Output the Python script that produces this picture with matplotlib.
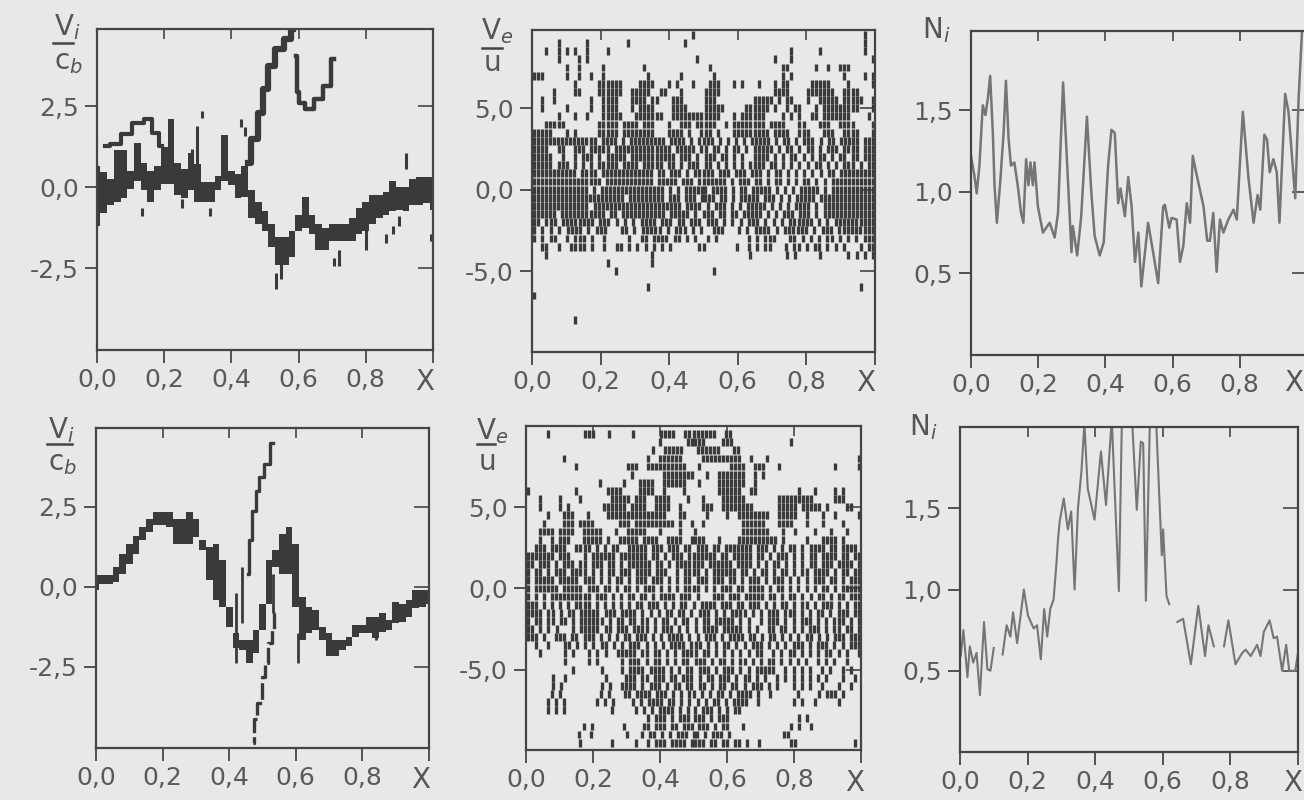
"""Six panels of ion/electron velocity and ion density against X (scanned figure)."""

import matplotlib
matplotlib.use("Agg")
import matplotlib.pyplot as plt
from matplotlib.lines import Line2D

BG = "#e8e8e6"
INK = "#454545"
DARK = "#3a3a3a"
GREY = "#757575"

plt.rcParams.update({"font.family": "DejaVu Sans", "font.size": 16, "mathtext.default": "it"})

x_labels = ["0,0", "0,2", "0,4", "0,6", "0,8", ""]
x_ticks = [0.0, 0.2, 0.4, 0.6, 0.8, 1.0]

# ── Vi, top row: main band ──────────────────────────────────────────
vi_top_x = [0.00, 0.02, 0.04, 0.06, 0.08, 0.10, 0.12, 0.14, 0.16, 0.18, 0.20, 0.22, 0.24, 0.26,
            0.28, 0.30, 0.32, 0.34, 0.36, 0.38, 0.40, 0.42, 0.44, 0.46, 0.48, 0.50, 0.52, 0.54,
            0.56, 0.58, 0.60, 0.62, 0.64, 0.66, 0.68, 0.70, 0.72, 0.74, 0.76, 0.78, 0.80, 0.82,
            0.84, 0.86, 0.88, 0.90, 0.92, 0.94, 0.96, 0.98, 1.00]
vi_top_hi = [0.65, 0.45, 0.25, 1.15, 1.15, 0.50, 1.35, 0.75, 0.50, 0.65, 1.25, 2.10, 0.75, 0.55,
             1.05, 0.70, 0.15, 0.15, 0.35, 1.60, 0.50, 0.40, 0.65, -0.10, -0.45, -0.75, -1.15, -1.55,
             -1.55, -1.35, -0.85, -0.30, -0.85, -1.15, -1.25, -1.15, -1.15, -1.15, -0.95, -0.65, -0.45, -0.25,
             -0.25, -0.15, 0.20, 0.00, 0.00, 0.25, 0.30, 0.30, 0.30]
vi_top_lo = [-1.20, -0.80, -0.55, -0.45, -0.35, -0.05, 0.20, -0.10, -0.45, -0.10, 0.10, 0.10, -0.25, -0.35,
             -0.10, -0.45, -0.45, -0.45, -0.10, 0.20, 0.05, -0.35, -0.30, -0.95, -1.15, -1.35, -1.85, -2.40,
             -2.40, -2.15, -1.35, -1.25, -1.45, -1.95, -1.95, -1.65, -1.65, -1.65, -1.65, -1.45, -1.35, -1.15,
             -0.95, -0.85, -0.75, -0.70, -0.75, -0.55, -0.55, -0.50, -0.70]

# beam branches of the top panel
beam1_x = [0.448, 0.468, 0.488, 0.498, 0.517, 0.542, 0.572, 0.584]
beam1_y = [0.75, 1.47, 2.30, 3.02, 3.74, 4.26, 4.57, 4.88]
beam2_x = [0.592, 0.597, 0.607, 0.632, 0.657, 0.687, 0.706]
beam2_y = [4.05, 2.92, 2.60, 2.40, 2.71, 3.12, 3.95]
beam3_x = [0.025, 0.055, 0.085, 0.124, 0.154, 0.174, 0.194]
beam3_y = [1.27, 1.32, 1.63, 1.99, 2.09, 1.68, 1.27]

# stray dashes of the top panel
stray_top_x = [0.313, 0.428, 0.441, 0.920, 0.335, 0.134, 0.532, 0.547, 0.706, 0.719, 0.861, 0.881,
               0.900, 0.995, 0.800, 0.254, 0.298, 0.284]
stray_top_hi = [2.35, 2.09, 1.84, 1.06, -0.64, -0.64, -2.65, -2.34, -2.19, -1.93, -1.46, -1.20,
                -0.90, -1.46, -1.20, -0.38, 1.89, 1.16]
stray_top_lo = [2.14, 1.84, 1.58, 0.55, -0.90, -0.90, -3.16, -2.85, -2.44, -2.44, -1.72, -1.46,
                -1.20, -1.67, -1.93, -0.64, 0.65, 0.00]

# ── Vi, bottom row ──────────────────────────────────────────────────
vi_bot_x = vi_top_x
vi_bot_hi = [0.36, 0.36, 0.36, 0.62, 1.03, 1.35, 1.60, 1.86, 2.12, 2.33, 2.33, 2.33, 2.12, 2.12,
             2.33, 2.12, 1.45, 1.24, 1.35, 0.83, -0.62, -1.45, -1.65, -1.65, -1.35, -0.52, 0.83, 1.14,
             1.66, 1.86, 1.35, -0.31, -0.62, -0.72, -1.24, -1.45, -1.66, -1.66, -1.55, -1.19, -1.19, -0.93,
             -0.93, -0.83, -1.03, -0.47, -0.52, -0.41, -0.10, -0.10, -0.10]
vi_bot_lo = [-0.10, 0.10, 0.10, 0.15, 0.41, 0.72, 1.03, 1.45, 1.70, 1.92, 1.92, 1.86, 1.35, 1.35,
             1.35, 1.55, 1.14, 0.20, -0.40, -0.62, -1.24, -1.90, -1.97, -2.38, -2.07, -1.35, -0.52, 0.62,
             0.41, 0.41, -0.62, -1.66, -1.45, -1.35, -1.66, -2.17, -2.17, -1.97, -1.86, -1.55, -1.45, -1.45,
             -1.60, -1.40, -1.35, -1.14, -1.09, -0.93, -0.67, -0.62, -0.52]
beam4_x = [0.457, 0.462, 0.477, 0.482, 0.497, 0.513, 0.533]
beam4_y = [0.41, 1.45, 2.38, 3.00, 3.42, 3.83, 4.50]
beam5_x = [0.538, 0.533, 0.523, 0.513, 0.503, 0.492, 0.477, 0.470]
beam5_y = [-0.83, -1.35, -1.76, -2.38, -2.80, -3.62, -4.14, -4.87]
stray_bot_x = [0.420, 0.437, 0.606, 0.842, 0.533]
stray_bot_hi = [-0.20, 0.62, -1.45, -1.45, 0.41]
stray_bot_lo = [-2.38, -1.14, -2.38, -1.66, -0.83]

# ── Ve particles: one string per y level, one character per column ──
ve_top_rows = {
    9.5: ".......................................#.........................................#..",
    9.0: "......#......#.........#.............#...........................................#..",
    8.5: "...#..#.#.#..#....#............................................#......#..........#..",
    8.0: "......#....#.#..........................#..................#...#...................#",
    7.5: "........#..#.....#.........#...............#.................##......#..#..###......",
    7.0: "###.....#..#..#..#..........#.......#.......#................#.#............#....#.#",
    6.5: "..........#.....######....####...#.#...#...###...#.#...#...#.##.....#####....#.....#",
    6.0: ".....#....##....######..#####..##...#.....####.............####....#######..####....",
    5.5: "..#..#........#..####...####.##...###.....###.........#####.#.##...#..#####.#####..#",
    5.0: "..#.....#.....#..####...#.####....####....#####.....######.#..#.##...#.#########...#",
    4.5: "......#...#..#...#####...#######..############...#.######....#.#.#..##.#######....#.",
    4.0: "...#####........#####.####.###...#..###.#####..#.########.####...##...###..####....#",
    3.5: "#####...#.#.....#####.########...####.#..###.#...#########.####..###...###..####...#",
    3.0: "################.####.#.#########.####.#.####.#.#.#.#.#####.#.##.#.###.#.##.#####.###",
    2.5: "####..##..###.#####.##############.#####.##.##.#.##.#.#####.#.##.#.##.#.###.####.###",
    2.0: "#####..#..#.###.#.#####.###########.###.#.###.##.#.#..####.#.#.##.#.#.##.#.##.##.###",
    1.5: "#####.###.#.#.#.#####.####.#####.##.#.###.##.#.#.#.#.####.##.#.#.#.#.##.#.#.###.#.##",
    1.0: "###########.####.#############.##.###.#.#####.###.###.###.#.##.#.#.#.#.#.##.#########",
    0.5: "#################.############.#####.###.#######.#.###.##.#.##.#.#.##.#.#.###########",
    0.0: "##############.#.################.#.#.######.####.#.##.#####.#.#.#.#####.#.###########",
    -0.5: "#######################.#########.###.###.####.##.#.#####.###.#.#.#####.##############",
    -1.0: "##############.######################.####.#.###.#.#.#####.#.#.#.####.#.#############",
    -1.5: "######.###########.##.###########.#####.#.###.##.##.#####.#.#.###.###.#.#############",
    -2.0: "##.###.########.###.#.#.#.####.###.##.###.###.#.#.#.###.#.#.#.######.#.#.##########",
    -2.5: "#.#.#.#.####.#.###...##.#.#####.#.###.#.#..###...#.#.####.#.######.#.###.#########",
    -3.0: "#.#.##..#.###.#..#.....#..##.####.##.#.#..#.#.......#.#.###...##.#.#.#.##.#.#.#.###",
    -3.5: "..##..#..####.#..#..##.#.#.#.#.#.#......##.......#..#.#.##...#.##.#.##.#.#.#...#.##",
    -4.0: "...#.........................#.......................#........#.#.....#......#.#.#.#",
    -4.5: "..................#..........#......................................................",
    -5.0: "....................#.......................#.......................................",
    -6.0: "............................#...................................................#...",
    -6.5: "#...................................................................................",
    -8.0: "..........#.........................................................................",
}
ve_bot_rows = {
    9.5: ".....#........###...#.....#......####..########..##................................",
    9.0: ".................................#......#####....###..............#.................",
    8.5: "...............................#..#####...######...##..............................",
    8.0: ".........#....................#..######.....##########..#...#......................#",
    7.5: "............#............###..##########...#.......####..###...#.............#.....#",
    7.0: "..........................#.......########...#..#######..#.#........................",
    6.5: "..................#.....#...####..######...#....#######..#..........................",
    6.0: "#...........#.......####....####..#....#........######..##..........#...#....#.#....",
    5.5: "...#....#....#.......#####.###..####....#...#....######........#########.....###....",
    5.0: "...#....#.#........######.####..####..#.....###..########......#####.#####.#....##..",
    4.5: ".....#...###...#....###############...##.....#....#..########..#####..#...#..#.....#",
    4.0: "....#....###.####......###.##########.#..#..#.........######...####...#...#....#....",
    3.5: "...####.####..#####...#..#####...#....#...#...........#######...#..#....#...#...#...",
    3.0: "...#..#.###...#####.#..#####.####..####..####...#....##########.#.....#...####.#....",
    2.5: "..###.####..####.#.#.##..#####.###.###.##.###.##.#######.###.#.#.##.#.####.##.####.",
    2.0: "#######.###...#.######.#######.##.#.###.#######.##.#####.##.#.###.#.#.##.####.##.##",
    1.5: "##.###.#.###.##.###.##.#.######.##.#.#######.######.####.#.#.##.#.#.#.##.###.####.#",
    1.0: "#.##.#.###.####.#.#.##.###.####.###..#.####.#.######.##.#.##.#.##.#.##.####.#.##.##",
    0.5: "#.#####.#####.###.#.#.##.#.###.###.#.#.##.###.###.##.#.###.#.###.#.#.#.###.##.#.###",
    0.0: "#.######.#####.###.##.#.##.#.###.#.#.#.####.#.#.###.##.####.#.##.#.#.#.#.##.#.#####",
    -0.5: "#.#.#.##########.###.#.#.##.##.#.####.###.#...###.###.#####.##.#.##.#.#.##.#.##.###",
    -1.0: "###.#.#.#.#.####.#.#.#.#.#.##.###.#.#.##.#.####.###.##.###.#.#.##.#.##.#.###.#.#.##",
    -1.5: "####.##.#.##.#####.###.####.#.#.#.##.##.#.###.#.#.####.#.#.###.###.#.#.##.#.###.##",
    -2.0: "#.##.##.##.#.######.#.##.##.##.#.##.#.##.#.##.#####.#.#..#.###.#.#.###.#.#.###.#.#",
    -2.5: "##.#.#.#...#.#####.##.###.####.#.###.#.#.#.####.#####.#.#..##.##.#.#.###.#.##.##.#",
    -3.0: "###.#..###.##.###.#.#.#.##.###.#.#.####.#.#.###.#.####.##.#.##.#.#.#.##.#.#.###.###",
    -3.5: "..#..#...##.#.#.#.##.#.#.###.#.#.#.####.###.#.#.##.#.#.###.#.#.#.###.#.###.#.#.###",
    -4.0: "...#.....#.#...#.#.#..#####.##.##.#.#.####.##.#.#.#.#.#.##..#.#.##.#.#.#.##.#.#..#",
    -4.5: ".........#.....#.#.....#.###.#.##.#.#.##.###.#.##.#.##.#.#.##.#.#.#.#..#.#.#..#...",
    -5.0: "...........#......#....#.####.####.#.#.##.###.#.###.#.#.#####..#.#.#.#..#.#..#.#..",
    -5.5: "......#..#.........#....###.##.###.##.###.#.##.###.#.##.#.#..#.#.#.#.#.#.#...#..#.",
    -6.0: "......#.#.........#.#..####.#.###.#.##.##.##.#.##.##.#.###.#.#...#.#.#..#...#..#..",
    -6.5: "......#.#.........#.#...##.####.###.#.#.##.#.#.##.#.####.#..#......#....#.###.#....",
    -7.0: ".....#.#.#.......#.#.#....#.#.####.##.#.#.#.#.##.#.####..#........#.#..#.....#.....",
    -7.5: ".....#.#.#...........#.....#.#.#.####.#.#.#.###.#.#.##..............................",
    -8.0: "..............................#.###.#.###.###.#.###.................#.#.............",
    -8.5: "..............#.#.......#....##.###.##.###.###.#.##...#...........#.#..#............",
    -9.0: ".............#..#........#...#.##.#.#.###.##.#.###.#.............##..................",
    -9.5: ".............#.......#.....#..#.###.####.####.##.##.##.#..#.......##..............#.",
}

# ── Ni curves ───────────────────────────────────────────────────────
ni_top_x = [0.000, 0.010, 0.017, 0.025, 0.035, 0.043, 0.050, 0.057, 0.065, 0.070, 0.077, 0.087, 0.097,
            0.104, 0.112, 0.119, 0.129, 0.139, 0.149, 0.156, 0.164, 0.171, 0.177, 0.184, 0.189, 0.199,
            0.214, 0.234, 0.249, 0.259, 0.274, 0.284, 0.299, 0.303, 0.316, 0.328, 0.345, 0.358, 0.368,
            0.383, 0.395, 0.408, 0.418, 0.428, 0.438, 0.445, 0.458, 0.468, 0.478, 0.488, 0.498, 0.507,
            0.527, 0.542, 0.557, 0.572, 0.577, 0.590, 0.597, 0.612, 0.622, 0.632, 0.642, 0.652, 0.660,
            0.672, 0.692, 0.703, 0.711, 0.721, 0.731, 0.741, 0.751, 0.766, 0.781, 0.791, 0.809, 0.826,
            0.841, 0.853, 0.861, 0.873, 0.881, 0.889, 0.900, 0.910, 0.918, 0.935, 0.945, 0.965, 0.975, 0.985]
ni_top_y = [1.22, 1.10, 0.99, 1.16, 1.53, 1.47, 1.57, 1.71, 1.36, 1.04, 0.81, 1.06, 1.36,
            1.68, 1.32, 1.16, 1.18, 1.04, 0.87, 0.81, 1.20, 1.04, 1.18, 1.04, 1.18, 0.91,
            0.75, 0.81, 0.72, 0.87, 1.67, 1.26, 0.63, 0.79, 0.61, 0.85, 1.46, 1.00, 0.73,
            0.61, 0.69, 1.16, 1.38, 1.36, 0.93, 1.02, 0.85, 1.09, 0.91, 0.57, 0.75, 0.42,
            0.81, 0.63, 0.44, 0.91, 0.92, 0.78, 0.84, 0.83, 0.57, 0.67, 0.93, 0.81, 1.22,
            1.10, 0.91, 0.70, 0.70, 0.87, 0.51, 0.83, 0.75, 0.83, 0.89, 0.83, 1.49, 1.08,
            0.81, 0.98, 0.89, 1.35, 1.32, 1.12, 1.20, 1.12, 0.81, 1.60, 1.49, 0.96, 1.57, 1.98]

ni_bot1_x = [0.000, 0.002, 0.010, 0.022, 0.029, 0.039, 0.049, 0.059, 0.071, 0.081, 0.090, 0.100]
ni_bot1_y = [0.63, 0.59, 0.75, 0.46, 0.65, 0.55, 0.61, 0.35, 0.80, 0.51, 0.50, 0.64]
ni_bot2_x = [0.126, 0.138, 0.149, 0.157, 0.169, 0.189, 0.201, 0.218, 0.228, 0.239, 0.249, 0.258, 0.267,
             0.277, 0.285, 0.290, 0.295, 0.307, 0.319, 0.329, 0.339, 0.349, 0.359, 0.368, 0.378, 0.398,
             0.417, 0.432, 0.449, 0.470, 0.479, 0.509, 0.523, 0.535, 0.542, 0.550, 0.562, 0.580, 0.597,
             0.601, 0.611, 0.619]
ni_bot2_y = [0.60, 0.78, 0.71, 0.86, 0.67, 1.00, 0.84, 0.76, 0.78, 0.57, 0.88, 0.71, 0.88,
             0.94, 1.15, 1.31, 1.42, 1.56, 1.37, 1.48, 1.00, 1.50, 1.72, 2.02, 1.62, 1.43,
             1.85, 1.52, 2.05, 0.99, 2.05, 2.05, 1.49, 1.91, 1.90, 0.93, 2.05, 2.05, 1.21,
             1.37, 0.96, 0.91]
ni_bot3_x = [0.643, 0.660, 0.683, 0.705, 0.725, 0.735, 0.751]
ni_bot3_y = [0.80, 0.82, 0.54, 0.90, 0.59, 0.78, 0.65]
ni_bot4_x = [0.781, 0.794, 0.815, 0.835, 0.845, 0.860, 0.879, 0.889, 0.899, 0.916, 0.928, 0.938, 0.953,
             0.965, 0.974, 0.992, 1.000]
ni_bot4_y = [0.65, 0.81, 0.54, 0.61, 0.63, 0.59, 0.66, 0.59, 0.74, 0.81, 0.70, 0.71, 0.50,
             0.66, 0.50, 0.50, 0.61]


def make_axes(fig, box, ylim, yticks, ylabels):
    """box is left, top, right, bottom in image pixels."""
    left, top, right, bottom = box
    ax = fig.add_axes([left / 1304, 1 - bottom / 800, (right - left) / 1304, (bottom - top) / 800])
    ax.set_facecolor("none")
    ax.set_xlim(0, 1)
    ax.set_ylim(*ylim)
    ax.set_xticks(x_ticks, x_labels)
    ax.set_yticks(yticks, ylabels)
    ax.tick_params(length=9, width=1.3, color=INK, labelcolor="#5a5a5a", labelsize=18, pad=4)
    for spine in ax.spines.values():
        spine.set_color(INK)
        spine.set_linewidth(1.6)
    # inward ticks on the top and right frame
    sec_x = ax.secondary_xaxis("top")
    sec_x.set_xticks(x_ticks[1:5], [""] * 4)
    sec_x.tick_params(direction="in", length=7, width=1.2, color=INK)
    sec_x.spines["top"].set_visible(False)
    sec_y = ax.secondary_yaxis("right")
    sec_y.set_yticks(yticks, [""] * len(yticks))
    sec_y.tick_params(direction="in", length=11, width=1.2, color=INK)
    sec_y.spines["right"].set_visible(False)
    return ax


def draw_particles(ax, rows):
    for y, row in rows.items():
        xs = [(i + 0.5) / len(row) for i, c in enumerate(row) if c == "#"]
        ax.vlines(xs, y - 0.24, y + 0.24, color=DARK, linewidth=2.4, capstyle="butt")


def put_text(fig, px, py, text, size=18):
    fig.text(px / 1304, 1 - py / 800, text, ha="center", va="center", color="#555555", fontsize=size)


def put_bar(fig, x0, x1, py):
    fig.add_artist(Line2D([x0 / 1304, x1 / 1304], [1 - py / 800] * 2, color=INK, linewidth=1.8))


fig = plt.figure(figsize=(13.04, 8), dpi=100, facecolor=BG)

vi_ticks = [2.5, 0.0, -2.5]
vi_labels = ["2,5", "0,0", "-2,5"]
ve_ticks = [5.0, 0.0, -5.0]
ve_labels = ["5,0", "0,0", "-5,0"]
ni_ticks = [1.5, 1.0, 0.5]
ni_labels = ["1,5", "1,0", "0,5"]

# top row
ax = make_axes(fig, (97, 29, 433, 350), (-5.03, 4.88), vi_ticks, vi_labels)
ax.fill_between(vi_top_x, vi_top_lo, vi_top_hi, step="mid", color=DARK, linewidth=0)
ax.plot(beam1_x, beam1_y, color=DARK, linewidth=4.5, drawstyle="steps-mid")
ax.plot(beam2_x, beam2_y, color=DARK, linewidth=3.2, drawstyle="steps-mid")
ax.plot(beam3_x, beam3_y, color=DARK, linewidth=3.0, drawstyle="steps-mid")
ax.vlines(stray_top_x, stray_top_lo, stray_top_hi, color=DARK, linewidth=2.2)

ax = make_axes(fig, (532, 30, 875, 352), (-9.97, 9.8), ve_ticks, ve_labels)
draw_particles(ax, ve_top_rows)

ax = make_axes(fig, (971, 31, 1307, 355), (0.0, 1.985), ni_ticks, ni_labels)
ax.plot(ni_top_x, ni_top_y, color=GREY, linewidth=1.8)

# bottom row
ax = make_axes(fig, (96, 428, 429, 748), (-5.03, 4.96), vi_ticks, vi_labels)
ax.fill_between(vi_bot_x, vi_bot_lo, vi_bot_hi, step="mid", color=DARK, linewidth=0)
ax.plot(beam4_x, beam4_y, color=DARK, linewidth=2.4, drawstyle="steps-mid")
ax.plot(beam5_x, beam5_y, color=DARK, linewidth=2.4, drawstyle="steps-mid", linestyle=(0, (5, 1.2)))
ax.vlines(stray_bot_x, stray_bot_lo, stray_bot_hi, color=DARK, linewidth=2.0)

ax = make_axes(fig, (526, 426, 861, 750), (-9.95, 10.0), ve_ticks, ve_labels)
draw_particles(ax, ve_bot_rows)

ax = make_axes(fig, (960, 427, 1298, 752), (0.0, 2.0), ni_ticks, ni_labels)
ax.plot(ni_bot1_x, ni_bot1_y, color=GREY, linewidth=1.5)
ax.plot(ni_bot2_x, ni_bot2_y, color=GREY, linewidth=1.5)
ax.plot(ni_bot3_x, ni_bot3_y, color=GREY, linewidth=1.5)
ax.plot(ni_bot4_x, ni_bot4_y, color=GREY, linewidth=1.5)

# axis names drawn by hand, as on the scan
put_text(fig, 67, 27, r"V$_i$", 20)
put_bar(fig, 53, 73, 43)
put_text(fig, 68, 62, r"c$_b$", 20)
put_text(fig, 497, 31, r"V$_e$", 20)
put_bar(fig, 482, 502, 48)
put_text(fig, 492, 63, "u", 20)
put_text(fig, 936, 30, r"N$_i$", 20)
put_text(fig, 61, 430, r"V$_i$", 20)
put_bar(fig, 47, 72, 444)
put_text(fig, 62, 463, r"c$_b$", 20)
put_text(fig, 492, 431, r"V$_e$", 20)
put_bar(fig, 477, 495, 444)
put_text(fig, 487, 462, "u", 20)
put_text(fig, 923, 427, r"N$_i$", 20)
put_text(fig, 425, 382, "X", 20)
put_text(fig, 866, 383, "X", 20)
put_text(fig, 1294, 383, "X", 20)
put_text(fig, 421, 780, "X", 20)
put_text(fig, 855, 783, "X", 20)
put_text(fig, 1293, 783, "X", 20)

fig.savefig("out.png", dpi=100, facecolor=BG)
